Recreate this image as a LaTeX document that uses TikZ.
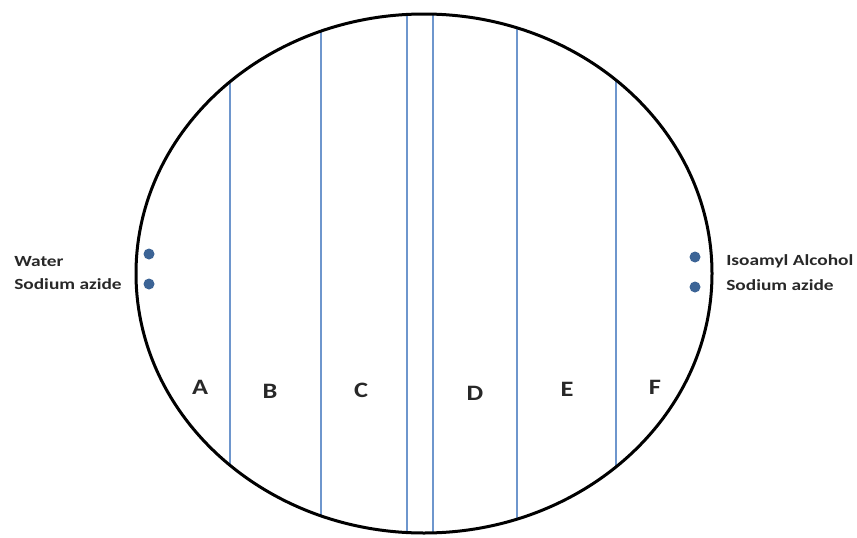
\documentclass[tikz,border=0pt]{standalone}
\usepackage{fontspec}
\setmainfont{Carlito}
\definecolor{lineblue}{RGB}{110,150,205}
\definecolor{dotblue}{RGB}{60,100,150}
\definecolor{txtgray}{RGB}{40,40,40}
\tikzset{
  lbl/.style={font=\bfseries\fontsize{15.5}{17}\selectfont, text=txtgray, anchor=west, inner sep=0pt, xscale=1.25},
  region/.style={font=\bfseries\fontsize{22}{24}\selectfont, text=txtgray, inner sep=0pt, xscale=1.2},
  dot/.style={circle, fill=dotblue, inner sep=0pt, minimum size=11pt},
  divider/.style={draw=lineblue, line width=2pt}
}
\begin{document}
\begin{tikzpicture}[x=1pt,y=-1pt]
\useasboundingbox (0,0) rectangle (857,538);
\begin{scope}
  \clip (424,273.5) ellipse [x radius=288, y radius=259.5];
  \foreach \xx in {230,321,407,433,517,616} {
    \draw[divider] (\xx,0) -- (\xx,538);
  }
\end{scope}
\draw[line width=3pt] (424,273.5) ellipse [x radius=288, y radius=259.5];
\node[dot] (d1) at (149,254) {};
\node[dot] (d2) at (149,284) {};
\node[dot] (d3) at (695,257) {};
\node[dot] (d4) at (695,287) {};
\node[lbl] (w) at (14,262) {Water};
\node[lbl] (s1) at (14,284) {Sodium azide};
\node[lbl] (ia) at (726,261) {Isoamyl Alcohol};
\node[lbl] (s2) at (726,285) {Sodium azide};
\node[region] (A) at (200,387) {A};
\node[region] (B) at (270,391) {B};
\node[region] (C) at (361,390) {C};
\node[region] (D) at (475,393) {D};
\node[region] (E) at (567,389) {E};
\node[region] (F) at (655,387) {F};
\end{tikzpicture}
\end{document}
